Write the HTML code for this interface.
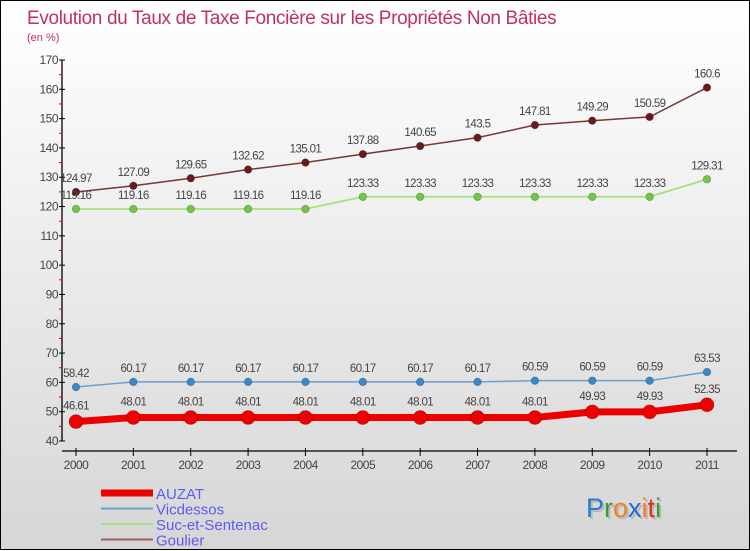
<!DOCTYPE html>
<html><head><meta charset="utf-8">
<style>
html,body{margin:0;padding:0;}
body{width:750px;height:550px;overflow:hidden;font-family:"Liberation Sans",sans-serif;}
#wrap{position:relative;width:748px;height:548px;border:1px solid #000;background:linear-gradient(#ffffff,#d6d6d6);}
svg{position:absolute;left:0;top:0;}
</style></head>
<body>
<div id="wrap">
<svg id="chart" width="750" height="550">
<text x="26" y="23" font-size="19" letter-spacing="-0.35" fill="#c0306a">Evolution du Taux de Taxe Foncière sur les Propriétés Non Bâties</text>
<text x="26" y="40" font-size="11" fill="#c0306a">(en %)</text>
<text x="585" y="516" font-size="27" fill="#999" opacity="0.5" transform="translate(2,2)">Proxiti</text>
<text x="585" y="516" font-size="27"><tspan fill="#2a7ad0">P</tspan><tspan fill="#3a9a3a">r</tspan><tspan fill="#f08020">o</tspan><tspan fill="#1a70d8">x</tspan><tspan fill="#f08020">i</tspan><tspan fill="#e03020">t</tspan><tspan fill="#3a9a3a">i</tspan></text>
</svg>
</div>
<script>
const years = ["2000","2001","2002","2003","2004","2005","2006","2007","2008","2009","2010","2011"];
const auzat = [46.61,48.01,48.01,48.01,48.01,48.01,48.01,48.01,48.01,49.93,49.93,52.35];
const vicdessos = [58.42,60.17,60.17,60.17,60.17,60.17,60.17,60.17,60.59,60.59,60.59,63.53];
const suc = [119.16,119.16,119.16,119.16,119.16,123.33,123.33,123.33,123.33,123.33,123.33,129.31];
const goulier = [124.97,127.09,129.65,132.62,135.01,137.88,140.65,143.5,147.81,149.29,150.59,160.6];
const yTicks = [40,50,60,70,80,90,100,110,120,130,140,150,160,170];

const NS="http://www.w3.org/2000/svg";
const svg=document.getElementById('chart');
const yMin=40,yMax=170,yTop=59,yBot=440;
const xFirst=75,xLast=706,axisX=61,axisY=450;
function yS(v){return yBot-(v-yMin)/(yMax-yMin)*(yBot-yTop);}
function xS(i){return xFirst+i*(xLast-xFirst)/(years.length-1);}
function mk(tag,attrs,parent){const e=document.createElementNS(NS,tag);for(const k in attrs)e.setAttribute(k,attrs[k]);(parent||svg).appendChild(e);return e;}

const ax=mk('g',{});


const yl=mk('line',{x1:axisX,y1:yTop,x2:axisX,y2:yBot,stroke:'#000','stroke-width':1.3},ax);


const xl=mk('line',{x1:axisX,y1:axisY,x2:xLast+30,y2:axisY,stroke:'#000','stroke-width':1.3},ax);


yTicks.forEach((t,i)=>{
  const y=yS(t);
  mk('line',{x1:axisX-3,y1:y,x2:axisX+3,y2:y,stroke:'#000'},ax);
  const tx=mk('text',{x:axisX-4,y:y+4,'text-anchor':'end','font-size':12,fill:'#444','letter-spacing':'-0.5'},ax);
  tx.textContent=t;
  
  
  if(i<yTicks.length-1){const ym=yS(t+5);mk('line',{x1:axisX-3,y1:ym,x2:axisX,y2:ym,stroke:'#e00'},ax);}
});
years.forEach((yr,i)=>{
  const x=xS(i);
  mk('line',{x1:x,y1:axisY-3,x2:x,y2:axisY+5,stroke:'#000'},ax);
  const tx=mk('text',{x:x,y:axisY+18,'text-anchor':'middle','font-size':12,fill:'#444','letter-spacing':'-0.5'},ax);
  tx.textContent=yr;
  
  
});

function series(data,name,color,pt,lw,r,labOff){
  const g=mk('g',{});
  
  
  const pts=data.map((v,i)=>xS(i)+','+yS(v)).join(' ');
  const pl=mk('polyline',{points:pts,fill:'none',stroke:color,'stroke-width':lw,'stroke-linejoin':'round'},g);
  
  
  data.forEach((v,i)=>{
    const c=mk('circle',{cx:xS(i),cy:yS(v),r:r,fill:pt,stroke:'rgba(0,0,0,0.25)','stroke-width':0.8},g);
    
    
    const t=mk('text',{x:xS(i),y:yS(v)-labOff,'text-anchor':'middle','font-size':11.5,fill:'#444','letter-spacing':'-0.6'},g);
    t.textContent=String(v);
    
    
  });
}
series(goulier,'goulier','#7a3535','#6a1a1a',1.5,3.8,10);
series(suc,'suc-et-sentenac','#a8e080','#70c840',1.8,3.8,10);
series(vicdessos,'vicdessos','#6aa0d0','#3a88c8',1.5,3.8,10);
series(auzat,'auzat','#ee0000','#ee0000',7,7,12);

const legend=[['AUZAT','#ee0000',7],['Vicdessos','#6aa0d0',2],['Suc-et-Sentenac','#a8e080',2],['Goulier','#a06060',2]];
legend.forEach((l,i)=>{
  const y=492+i*15.5;
  const g=mk('g',{});
  
  
  mk('line',{x1:100,y1:y,x2:152,y2:y,stroke:l[1],'stroke-width':l[2]},g);
  const t=mk('text',{x:155,y:y+6,'font-size':15,fill:'#5c5cf0'},g);
  t.textContent=l[0];
});
</script>
</body></html>
